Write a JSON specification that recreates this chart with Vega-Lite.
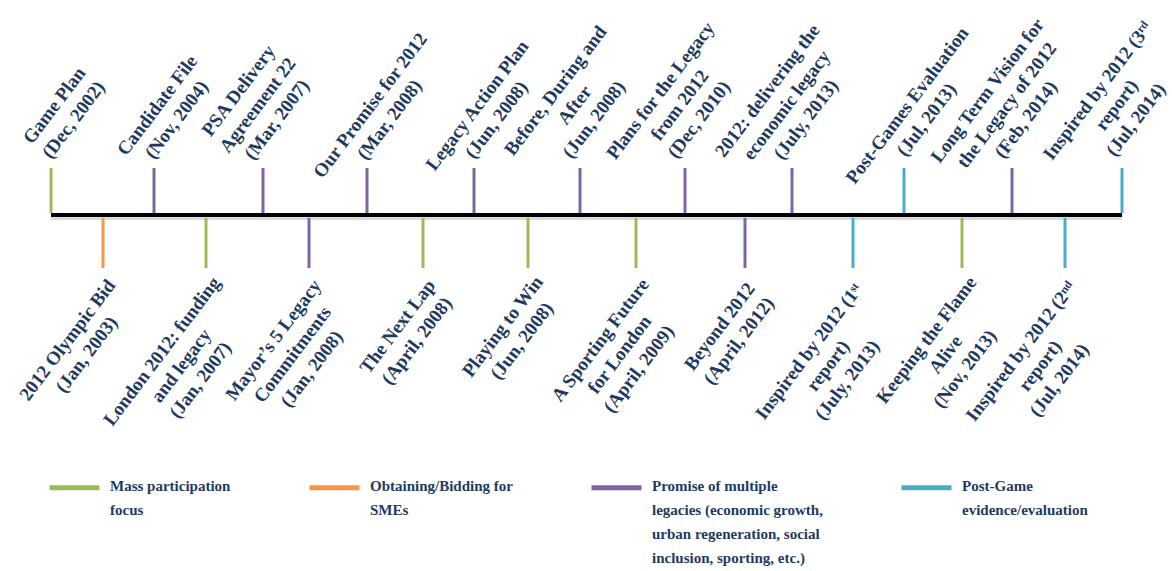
{
  "$schema": "https://vega.github.io/schema/vega-lite/v6.json",
  "width": 1172,
  "height": 571,
  "padding": 0,
  "autosize": {"type": "none"},
  "background": "white",
  "config": {"view": {"stroke": null}},
  "data": {
    "values": [
      {"pos": 51, "side": "above", "cat": "Mass participation focus", "label": "Game Plan\n(Dec, 2002)"},
      {"pos": 103, "side": "below", "cat": "Obtaining/Bidding for SMEs", "label": "2012 Olympic Bid\n(Jan, 2003)"},
      {"pos": 154, "side": "above", "cat": "Promise of multiple legacies", "label": "Candidate File\n(Nov, 2004)"},
      {"pos": 206, "side": "below", "cat": "Mass participation focus", "label": "London 2012: funding\nand legacy\n(Jan, 2007)"},
      {"pos": 263, "side": "above", "cat": "Promise of multiple legacies", "label": "PSA Delivery\nAgreement 22\n(Mar, 2007)"},
      {"pos": 309, "side": "below", "cat": "Promise of multiple legacies", "label": "Mayor’s 5 Legacy\nCommitments\n(Jan, 2008)"},
      {"pos": 367, "side": "above", "cat": "Promise of multiple legacies", "label": "Our Promise for 2012\n(Mar, 2008)"},
      {"pos": 423, "side": "below", "cat": "Mass participation focus", "label": "The Next Lap\n(April, 2008)"},
      {"pos": 474, "side": "above", "cat": "Promise of multiple legacies", "label": "Legacy Action Plan\n(Jun, 2008)"},
      {"pos": 528, "side": "below", "cat": "Mass participation focus", "label": "Playing to Win\n(Jun, 2008)"},
      {"pos": 580, "side": "above", "cat": "Promise of multiple legacies", "label": "Before, During and\nAfter\n(Jun, 2008)"},
      {"pos": 636, "side": "below", "cat": "Mass participation focus", "label": "A Sporting Future\nfor London\n(April, 2009)"},
      {"pos": 685, "side": "above", "cat": "Promise of multiple legacies", "label": "Plans for the Legacy\nfrom 2012\n(Dec, 2010)"},
      {"pos": 745, "side": "below", "cat": "Promise of multiple legacies", "label": "Beyond 2012\n(April, 2012)"},
      {"pos": 792, "side": "above", "cat": "Promise of multiple legacies", "label": "2012: delivering the\neconomic legacy\n(July, 2013)"},
      {"pos": 853, "side": "below", "cat": "Post-Game evidence/evaluation", "label": "Inspired by 2012 (1ˢᵗ\nreport)\n(July, 2013)"},
      {"pos": 904, "side": "above", "cat": "Post-Game evidence/evaluation", "label": "Post-Games Evaluation\n(Jul, 2013)"},
      {"pos": 962, "side": "below", "cat": "Mass participation focus", "label": "Keeping the Flame\nAlive\n(Nov, 2013)"},
      {"pos": 1012, "side": "above", "cat": "Promise of multiple legacies", "label": "Long Term Vision for\nthe Legacy of 2012\n(Feb, 2014)"},
      {"pos": 1065, "side": "below", "cat": "Post-Game evidence/evaluation", "label": "Inspired by 2012 (2ⁿᵈ\nreport)\n(Jul, 2014)"},
      {"pos": 1122, "side": "above", "cat": "Post-Game evidence/evaluation", "label": "Inspired by 2012 (3ʳᵈ\nreport)\n(Jul, 2014)"}
    ]
  },
  "layer": [
    {
      "mark": {"type": "rule", "strokeWidth": 4, "color": "#999999", "opacity": 0.35},
      "encoding": {
        "x": {"aggregate": "min", "field": "pos", "type": "quantitative", "scale": {"domain": [0, 1172]}, "axis": null},
        "x2": {"aggregate": "max", "field": "pos"},
        "y": {"datum": -3, "type": "quantitative", "scale": {"domain": [-356, 215]}, "axis": null}
      }
    },
    {
      "mark": {"type": "rule", "strokeWidth": 4, "color": "#000000"},
      "encoding": {
        "x": {"aggregate": "min", "field": "pos", "type": "quantitative", "scale": {"domain": [0, 1172]}, "axis": null},
        "x2": {"aggregate": "max", "field": "pos"},
        "y": {"datum": 0, "type": "quantitative", "scale": {"domain": [-356, 215]}, "axis": null}
      }
    },
    {
      "transform": [{"filter": "datum.side == 'above'"}],
      "mark": {"type": "rule", "strokeWidth": 3},
      "encoding": {
        "x": {"field": "pos", "type": "quantitative", "scale": {"domain": [0, 1172]}, "axis": null},
        "y": {"datum": 2, "type": "quantitative", "scale": {"domain": [-356, 215]}, "axis": null},
        "y2": {"datum": 47},
        "color": {
          "field": "cat",
          "type": "nominal",
          "scale": {
            "domain": ["Mass participation focus", "Obtaining/Bidding for SMEs", "Promise of multiple legacies", "Post-Game evidence/evaluation"],
            "range": ["#9BBB59", "#F79646", "#8064A2", "#4BACC6"]
          },
          "legend": {
            "orient": "none",
            "legendX": 47,
            "legendY": 460,
            "direction": "horizontal",
            "columns": 4,
            "title": null,
            "padding": 0,
            "symbolType": "stroke",
            "symbolSize": 2500,
            "symbolStrokeWidth": 5,
            "labelFont": "Liberation Serif",
            "labelFontSize": 15,
            "labelFontWeight": "bold",
            "labelColor": "#1f3a5f",
            "labelOffset": 8,
            "labelLimit": 400,
            "labelBaseline": "top",
            "columnPadding": 68,
            "labelExpr": "datum.label == 'Mass participation focus' ? ['Mass participation', 'focus', ' ', ' '] : datum.label == 'Obtaining/Bidding for SMEs' ? ['Obtaining/Bidding for', 'SMEs', ' ', ' '] : datum.label == 'Post-Game evidence/evaluation' ? ['Post-Game', 'evidence/evaluation', ' ', ' '] : ['Promise of multiple', 'legacies (economic growth,', 'urban regeneration, social', 'inclusion, sporting, etc.)']",
            "encode": {"labels": {"update": {"lineHeight": {"value": 24}, "dy": {"value": -9}}}}
          }
        }
      }
    },
    {
      "transform": [{"filter": "datum.side == 'below'"}],
      "mark": {"type": "rule", "strokeWidth": 3},
      "encoding": {
        "x": {"field": "pos", "type": "quantitative", "scale": {"domain": [0, 1172]}, "axis": null},
        "y": {"datum": -3, "type": "quantitative", "scale": {"domain": [-356, 215]}, "axis": null},
        "y2": {"datum": -53},
        "color": {"field": "cat", "type": "nominal"}
      }
    },
    {
      "transform": [{"filter": "datum.side == 'above' && length(split(datum.label, '\\n')) == 2"}],
      "mark": {"type": "text", "angle": -53, "align": "center", "baseline": "alphabetic", "dx": 52, "dy": -29, "font": "Liberation Serif", "fontSize": 19, "fontWeight": "bold", "color": "#1f3a5f", "lineBreak": "\n", "lineHeight": 24},
      "encoding": {
        "x": {"field": "pos", "type": "quantitative", "scale": {"domain": [0, 1172]}, "axis": null},
        "y": {"datum": 47, "type": "quantitative", "scale": {"domain": [-356, 215]}, "axis": null},
        "text": {"field": "label"}
      }
    },
    {
      "transform": [{"filter": "datum.side == 'above' && length(split(datum.label, '\\n')) == 3"}],
      "mark": {"type": "text", "angle": -53, "align": "center", "baseline": "alphabetic", "dx": 47, "dy": -60, "font": "Liberation Serif", "fontSize": 19, "fontWeight": "bold", "color": "#1f3a5f", "lineBreak": "\n", "lineHeight": 24},
      "encoding": {
        "x": {"field": "pos", "type": "quantitative", "scale": {"domain": [0, 1172]}, "axis": null},
        "y": {"datum": 47, "type": "quantitative", "scale": {"domain": [-356, 215]}, "axis": null},
        "text": {"field": "label"}
      }
    },
    {
      "transform": [{"filter": "datum.side == 'below' && length(split(datum.label, '\\n')[0]) <= 14"}],
      "mark": {"type": "text", "angle": -53, "align": "center", "baseline": "top", "dx": -62, "dy": 6, "font": "Liberation Serif", "fontSize": 19, "fontWeight": "bold", "color": "#1f3a5f", "lineBreak": "\n", "lineHeight": 24},
      "encoding": {
        "x": {"field": "pos", "type": "quantitative", "scale": {"domain": [0, 1172]}, "axis": null},
        "y": {"datum": -53, "type": "quantitative", "scale": {"domain": [-356, 215]}, "axis": null},
        "text": {"field": "label"}
      }
    },
    {
      "transform": [{"filter": "datum.side == 'below' && length(split(datum.label, '\\n')[0]) > 14 && length(split(datum.label, '\\n')[0]) <= 17"}],
      "mark": {"type": "text", "angle": -53, "align": "center", "baseline": "top", "dx": -79, "dy": 6, "font": "Liberation Serif", "fontSize": 19, "fontWeight": "bold", "color": "#1f3a5f", "lineBreak": "\n", "lineHeight": 24},
      "encoding": {
        "x": {"field": "pos", "type": "quantitative", "scale": {"domain": [0, 1172]}, "axis": null},
        "y": {"datum": -53, "type": "quantitative", "scale": {"domain": [-356, 215]}, "axis": null},
        "text": {"field": "label"}
      }
    },
    {
      "transform": [{"filter": "datum.side == 'below' && length(split(datum.label, '\\n')[0]) > 17"}],
      "mark": {"type": "text", "angle": -53, "align": "center", "baseline": "top", "dx": -93, "dy": 6, "font": "Liberation Serif", "fontSize": 19, "fontWeight": "bold", "color": "#1f3a5f", "lineBreak": "\n", "lineHeight": 24},
      "encoding": {
        "x": {"field": "pos", "type": "quantitative", "scale": {"domain": [0, 1172]}, "axis": null},
        "y": {"datum": -53, "type": "quantitative", "scale": {"domain": [-356, 215]}, "axis": null},
        "text": {"field": "label"}
      }
    }
  ]
}
